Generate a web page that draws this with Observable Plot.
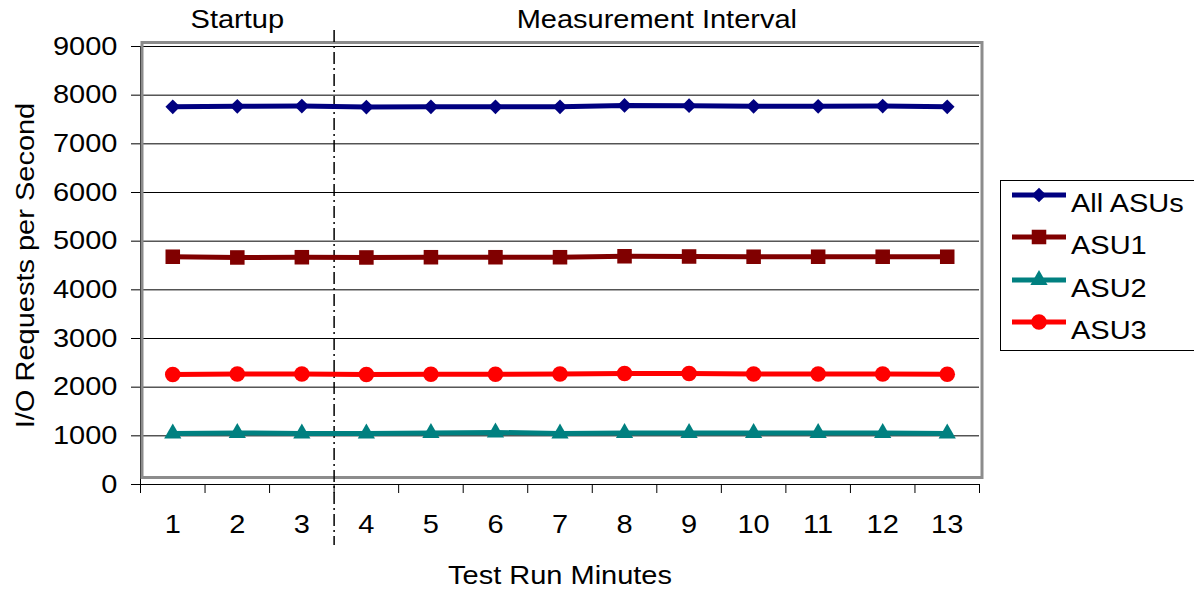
<!DOCTYPE html>
<html>
<head>
<meta charset="utf-8">
<script src="https://cdn.jsdelivr.net/npm/d3@7"></script>
<script src="https://cdn.jsdelivr.net/npm/@observablehq/plot@0.6"></script>
<style>
  html, body { margin: 0; padding: 0; background: #fff; }
  #chart { position: relative; width: 1194px; height: 589px; overflow: hidden; }
</style>
</head>
<body>
<div id="chart"></div>
<script>
// ---- Data ----
const minutes = [1, 2, 3, 4, 5, 6, 7, 8, 9, 10, 11, 12, 13];
const allASUs = [7760, 7770, 7775, 7755, 7760, 7760, 7760, 7790, 7785, 7770, 7770, 7775, 7760];
const asu1    = [4680, 4665, 4670, 4665, 4670, 4670, 4670, 4690, 4685, 4680, 4680, 4680, 4680];
const asu2    = [1050, 1060, 1050, 1050, 1060, 1070, 1050, 1060, 1060, 1060, 1060, 1060, 1050];
const asu3    = [2260, 2270, 2270, 2260, 2265, 2265, 2270, 2280, 2280, 2270, 2270, 2270, 2265];

const seriesNames   = ["All ASUs", "ASU1", "ASU2", "ASU3"];
const seriesColors  = ["#000080", "#800000", "#008080", "#ff0000"];
const seriesSymbols = ["diamond2", "square", "triangle", "circle"];
const symbolRadius  = [6.6, 8.2, 6.4, 7.8];

const yTicks = [0, 1000, 2000, 3000, 4000, 5000, 6000, 7000, 8000, 9000];
const xTickMarks = [0.5, 1.5, 2.5, 3.5, 4.5, 5.5, 6.5, 7.5, 8.5, 9.5, 10.5, 11.5, 12.5, 13.5];
const phaseLabels  = ["Startup", "Measurement Interval"];
const phaseCenters = [2, 8.5];
const phaseBoundary = [3.5];
const yTitle = "I/O Requests per Second";
const xTitle = "Test Run Minutes";

// ---- Build table ----
const seriesValues = [allASUs, asu1, asu2, asu3];
const seriesData = seriesValues.map((vals, k) =>
  minutes.map((m, i) => ({ minute: m, value: vals[i], series: seriesNames[k] }))
);

const FONT = '"Liberation Sans", Arial, sans-serif';
const STRETCH = 1.16;

const plot = Plot.plot({
  width: 1194,
  height: 589,
  marginLeft: 140,
  marginRight: 215,
  marginTop: 46,
  marginBottom: 105,
  style: { fontFamily: FONT, fontSize: "25px", color: "#000", background: "#fff", overflow: "visible" },
  x: { type: "linear", domain: [0.5, 13.5] },
  y: { domain: [0, 9000] },
  marks: [
    Plot.ruleY(yTicks, { stroke: "#000", strokeWidth: 1 }),
    Plot.axisY(yTicks, { tickSize: 9, tickPadding: 14, tickFormat: d => String(d), label: null, stroke: "#000", fill: "#000" }),
    Plot.axisX(xTickMarks, { tickSize: 9, tickFormat: () => "", label: null, stroke: "#000" }),
    Plot.axisX(minutes, { tickSize: 0, tickPadding: 31, tickFormat: d => String(d), label: null, fill: "#000" }),
    Plot.ruleX([0.5], { stroke: "#000", strokeWidth: 1 }),
    Plot.frame({ stroke: "#8c8c8c", strokeWidth: 3, insetLeft: 1.5, insetRight: -2.5, insetTop: -4, insetBottom: 7 }),
    Plot.ruleX(phaseBoundary, { stroke: "#000", strokeWidth: 1.5, strokeDasharray: "12,4,2,4", insetTop: -16, insetBottom: -61 }),
    ...seriesData.map((d, k) => Plot.line(d, { x: "minute", y: "value", stroke: seriesColors[k], strokeWidth: 5 })),
    ...seriesData.map((d, k) => Plot.dot(d, { x: "minute", y: "value", symbol: seriesSymbols[k], r: symbolRadius[k], fill: seriesColors[k], stroke: "none" })),
    Plot.text(phaseLabels, { x: (d, i) => phaseCenters[i], text: d => d, frameAnchor: "top", dy: -27, lineAnchor: "middle", fill: "#000" }),
    Plot.text([yTitle], { text: d => d, frameAnchor: "left", rotate: -90, dx: -115, textAnchor: "middle", lineAnchor: "middle", fill: "#000" }),
    Plot.text([xTitle], { text: d => d, frameAnchor: "bottom", dy: 91, textAnchor: "middle", lineAnchor: "middle", fill: "#000" })
  ]
});

document.getElementById("chart").appendChild(plot);

// ---- Legend (drawn with d3 into the same SVG) ----
const svg = d3.select(plot);
const lg = svg.append("g").attr("font-family", FONT).attr("font-size", 25).attr("text-anchor", "start");
lg.append("rect")
  .attr("x", 1000.5).attr("y", 180.5).attr("width", 260).attr("height", 170)
  .attr("fill", "#fff").attr("stroke", "#000").attr("stroke-width", 1);
const legendY = [195, 237, 280, 322];
const d3Symbols = [d3.symbolDiamond2, d3.symbolSquare, d3.symbolTriangle, d3.symbolCircle];
seriesNames.forEach((name, k) => {
  const cy = legendY[k];
  lg.append("line")
    .attr("x1", 1012).attr("x2", 1066).attr("y1", cy).attr("y2", cy)
    .attr("stroke", seriesColors[k]).attr("stroke-width", 5);
  lg.append("path")
    .attr("d", d3.symbol(d3Symbols[k], Math.PI * symbolRadius[k] * symbolRadius[k])())
    .attr("transform", `translate(1039,${cy})`)
    .attr("fill", seriesColors[k]);
  lg.append("text")
    .attr("transform", `translate(1071,${cy + 17})`)
    .attr("fill", "#000")
    .attr("text-anchor", "start")
    .text(name);
});

// ---- Stretch glyphs horizontally along baseline (reference font is widened) ----
plot.querySelectorAll("text").forEach(el => {
  const t = el.getAttribute("transform") || "";
  el.setAttribute("transform", `${t} scale(${STRETCH},1)`);
});
</script>
</body>
</html>
